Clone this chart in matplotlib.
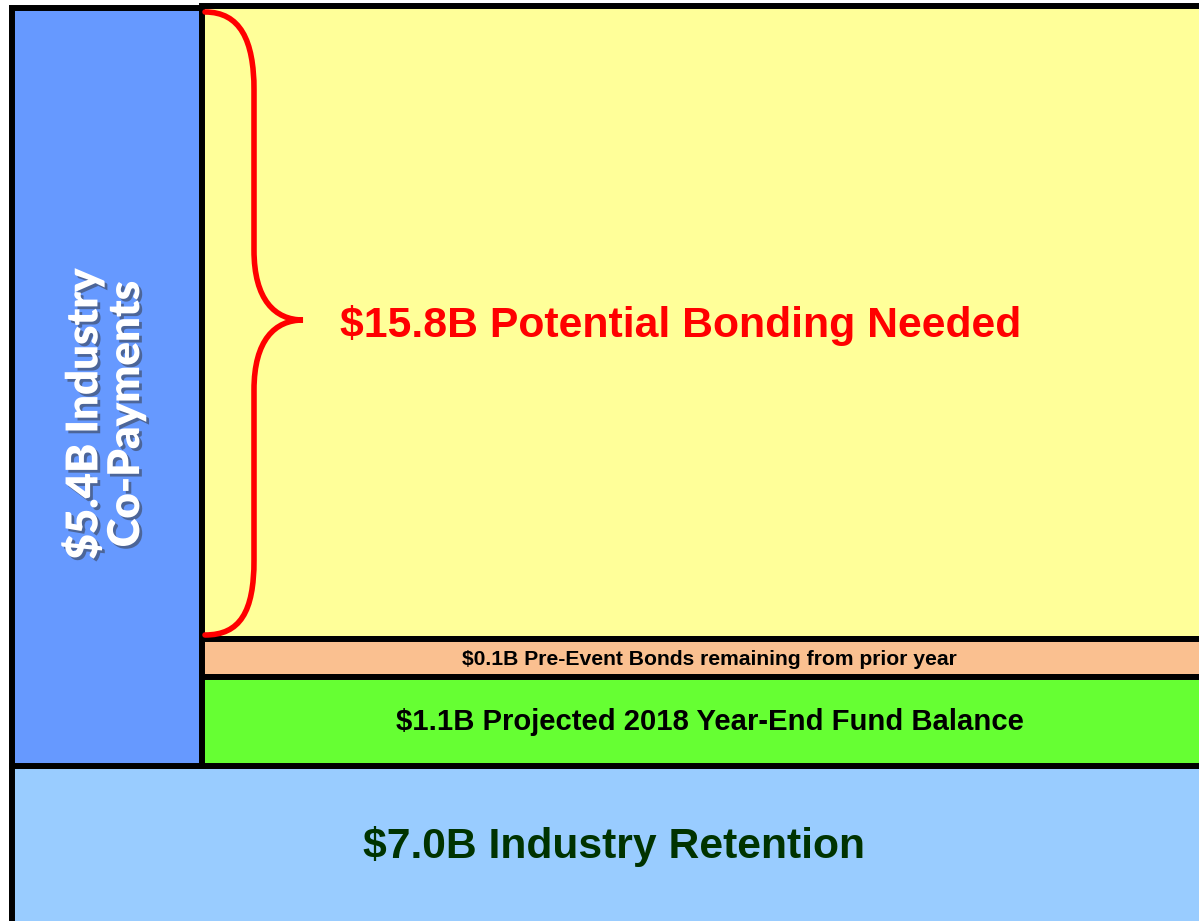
import matplotlib
matplotlib.use("Agg")
import matplotlib.pyplot as plt
from matplotlib.patches import Rectangle, PathPatch
from matplotlib.path import Path
import matplotlib.patheffects as pe

# amounts in $B and their labels
amounts = [15.8, 0.1, 1.1, 7.0, 5.4]
labels = [
    "Potential Bonding Needed",
    "Pre-Event Bonds remaining from prior year",
    "Projected 2018 Year-End Fund Balance",
    "Industry Retention",
    "Industry\nCo-Payments",
]

W, H = 1199, 921
fig = plt.figure(figsize=(W / 100, H / 100), dpi=100)
ax = fig.add_axes([0, 0, 1, 1])
ax.set_xlim(0, W)
ax.set_ylim(H, 0)
ax.axis("off")

lw = 4.3

def box(x0, y0, x1, y1, color):
    ax.add_patch(Rectangle((x0, y0), x1 - x0, y1 - y0, facecolor=color,
                           edgecolor="black", linewidth=lw))

# blocks (pixel layout)
box(12, 766, W + 20, H + 20, "#99ccff")   # retention
box(12, 8, 202, 766, "#6699ff")           # co-payments column
box(202, 6.5, W + 20, 639, "#ffff99")     # bonding
box(202, 639, W + 20, 677, "#fac090")     # pre-event bonds
box(202, 677, W + 20, 766, "#66ff33")     # fund balance

# red curly brace
verts = [(205, 12), (240, 12), (254, 40), (254, 90),
         (254, 250),
         (254, 300), (275, 320), (303, 320),
         (275, 320), (254, 340), (254, 390),
         (254, 560),
         (254, 612), (240, 635), (205, 635)]
codes = [Path.MOVETO, Path.CURVE4, Path.CURVE4, Path.CURVE4,
         Path.LINETO,
         Path.CURVE4, Path.CURVE4, Path.CURVE4,
         Path.CURVE4, Path.CURVE4, Path.CURVE4,
         Path.LINETO,
         Path.CURVE4, Path.CURVE4, Path.CURVE4]
ax.add_patch(PathPatch(Path(verts, codes), facecolor="none",
                       edgecolor="#ff0000", linewidth=4, capstyle="round"))

font = "Liberation Sans"
ax.text(681, 325, f"${amounts[0]}B {labels[0]}", color="#ff0000",
        fontsize=30.8, fontweight="bold", family=font, ha="center", va="center")
ax.text(709, 659, f"${amounts[1]}B {labels[1]}", color="black",
        fontsize=15.2, fontweight="bold", family=font, ha="center", va="center")
ax.text(710, 722, f"${amounts[2]}B {labels[2]}", color="black",
        fontsize=21.1, fontweight="bold", family=font, ha="center", va="center")
ax.text(614, 846, f"${amounts[3]}B {labels[3]}", color="#003300",
        fontsize=30.7, fontweight="bold", family=font, ha="center", va="center")

ax.text(104, 414, f"${amounts[4]}B {labels[4]}", color="white",
        fontsize=31.5, fontweight="heavy", family="Lato", rotation=90,
        ha="center", va="center", multialignment="center", linespacing=1.05,
        path_effects=[pe.withSimplePatchShadow(offset=(2, -2), shadow_rgbFace="#333333", alpha=0.5)])

fig.savefig("out.png", dpi=100)
